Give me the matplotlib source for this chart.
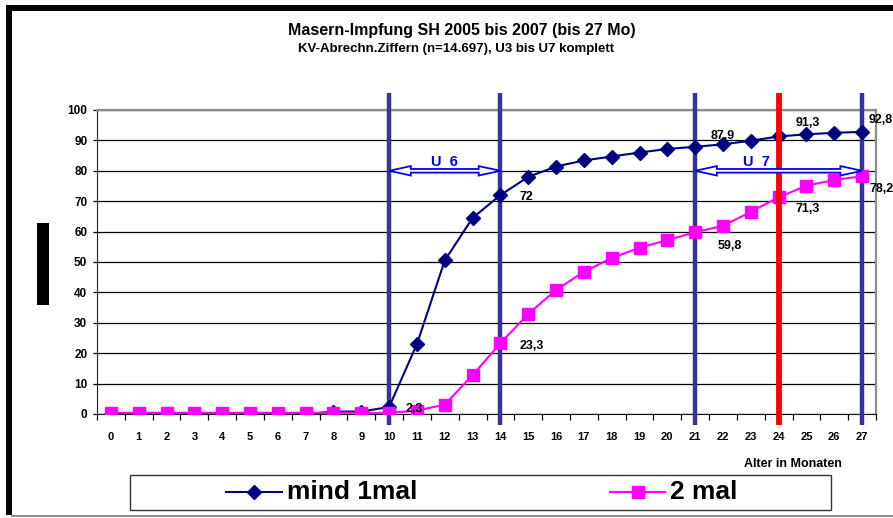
import matplotlib.pyplot as plt
import matplotlib.patches as mpatches
from matplotlib.lines import Line2D

# Alter in Monaten
months = list(range(28))

# Impfquote in %, mindestens eine Masern-Impfung
mind_1mal = [0.0, 0.0, 0.0, 0.0, 0.0, 0.0, 0.0, 0.0, 0.8, 0.8,
             2.3, 23.0, 50.5, 64.5, 72.0, 78.0, 81.4, 83.4, 84.7, 86.0,
             87.2, 87.9, 88.7, 89.9, 91.3, 92.0, 92.5, 92.8]

# Impfquote in %, zwei Masern-Impfungen
zwei_mal = [0.4, 0.4, 0.4, 0.4, 0.4, 0.4, 0.4, 0.4, 0.4, 0.4,
            0.4, 1.1, 3.1, 12.8, 23.3, 32.9, 40.8, 46.8, 51.3, 54.7,
            57.2, 59.8, 61.9, 66.5, 71.3, 75.1, 77.0, 78.2]

# U-Untersuchungen (Monat)
u_lines = [10, 14, 21, 27]
u_ranges = [("U  6", 10, 14), ("U  7", 21, 27)]
red_month = 24

# welche Punkte beschriftet werden, mit Versatz in Pixel
labels_1mal = {10: (17, -2), 14: (19, -2), 21: (15, 11), 24: (17, 13), 27: (7, 12)}
labels_2mal = {14: (19, -3), 21: (22, -14), 24: (17, -12), 27: (7, -13)}

W, H = 893, 518
fig = plt.figure(figsize=(W / 100, H / 100), dpi=100)
plt.rcParams['font.family'] = ['Liberation Sans', 'DejaVu Sans']

ax = fig.add_axes([97 / W, 1 - 414 / H, (876 - 97) / W, (414 - 110) / H])
ax.set_xlim(-0.5, 27.5)
ax.set_ylim(0, 100)

# horizontal grid
ax.set_yticks(range(0, 101, 10))
ax.yaxis.grid(True, color='black', lw=0.9)
ax.set_axisbelow(True)

ax.set_xticks(months)
ax.set_xticks([m - 0.5 for m in months] + [27.5], minor=True)
ax.tick_params(axis='x', which='major', length=0, pad=13, labelsize=8)
ax.tick_params(axis='x', which='minor', length=4, width=0.9, direction='out')
ax.tick_params(axis='y', length=3, width=0.9, pad=4, labelsize=8.5)
for lab in ax.get_xticklabels() + ax.get_yticklabels():
    lab.set_fontweight('bold')

for s in ['top', 'right']:
    ax.spines[s].set_color('#8c8c8c')
    ax.spines[s].set_linewidth(1.6)
ax.spines['left'].set_color('#222222')
ax.spines['bottom'].set_color('#111111')

# U-Linien
ax.vlines(u_lines, -3.6, 105.6, colors='#34349a', lw=3.2, clip_on=False, zorder=3)
ax.vlines([red_month], -3.6, 105.6, colors='#ff0000', lw=4.2, clip_on=False, zorder=7)


def double_arrow(x0, x1, y):
    hl, hh, sh = 0.78, 1.55, 0.6
    pts = [(x0, y), (x0 + hl, y + hh), (x0 + hl, y + sh), (x1 - hl, y + sh),
           (x1 - hl, y + hh), (x1, y), (x1 - hl, y - hh), (x1 - hl, y - sh),
           (x0 + hl, y - sh), (x0 + hl, y - hh)]
    ax.add_patch(mpatches.Polygon(pts, closed=True, fc='white', ec='#0000ff',
                                  lw=1.3, zorder=8))


for name, x0, x1 in u_ranges:
    double_arrow(x0, x1, 80)
ax.text(12, 83, u_ranges[0][0], color='#0000ff', fontsize=10.5, fontweight='bold',
        ha='center', va='center', zorder=9)
ax.text(23.2, 83, u_ranges[1][0], color='#0000ff', fontsize=10.5, fontweight='bold',
        ha='center', va='center', zorder=9)

ax.plot(months, mind_1mal, color='#000080', lw=1.5, marker='D', ms=7.5, zorder=5)
ax.plot(months, zwei_mal, color='#ff00ff', lw=1.5, marker='s', ms=8, zorder=6)


def fmt(v):
    return f"{v:g}".replace('.', ',')


for series, labs in [(mind_1mal, labels_1mal), (zwei_mal, labels_2mal)]:
    for m, off in labs.items():
        ax.annotate(fmt(series[m]), (m, series[m]), xytext=off, textcoords='offset pixels',
                    fontsize=9, fontweight='bold', ha='left', va='center',
                    annotation_clip=False, zorder=10)

# Titel
fig.text(462 / W, 1 - 30 / H, "Masern-Impfung SH 2005 bis 2007 (bis 27 Mo)",
         ha='center', va='center', fontsize=11.5, fontweight='bold')
fig.text(456 / W, 1 - 49 / H, "KV-Abrechn.Ziffern (n=14.697), U3 bis U7 komplett",
         ha='center', va='center', fontsize=9.5, fontweight='bold')
fig.text(793 / W, 1 - 464 / H, "Alter in Monaten", ha='center', va='center',
         fontsize=9, fontweight='bold')

# Legende
fig.add_artist(mpatches.Rectangle((130 / W, 1 - 510 / H), 701 / W, 35 / H,
                                  transform=fig.transFigure, fc='white', ec='#333333', lw=1))
ly = 1 - 492 / H
fig.add_artist(Line2D([226 / W, 282 / W], [ly, ly], color='#000080', lw=1.5))
fig.add_artist(Line2D([254 / W], [ly], color='#000080', marker='D', ms=7.5))
fig.text(287 / W, ly, "mind 1mal", fontsize=19, fontweight='bold', va='center')
fig.add_artist(Line2D([610 / W, 665 / W], [ly, ly], color='#ff00ff', lw=1.5))
fig.add_artist(Line2D([638 / W], [ly], color='#ff00ff', marker='s', ms=8))
fig.text(670 / W, ly, "2 mal", fontsize=19, fontweight='bold', va='center')

# Rahmen und schwarzer Balken
fig.add_artist(mpatches.Rectangle((6 / W, 1 - 11 / H), (W - 6) / W, 6 / H,
                                  transform=fig.transFigure, fc='black', ec='none'))
fig.add_artist(mpatches.Rectangle((6 / W, 1 - 515 / H), 6 / W, 510 / H,
                                  transform=fig.transFigure, fc='black', ec='none'))
fig.add_artist(Line2D([12 / W, 1], [1 - 515.5 / H, 1 - 515.5 / H], color='#777777', lw=1.2))
fig.add_artist(mpatches.Rectangle((37 / W, 1 - 305 / H), 12 / W, 82 / H,
                                  transform=fig.transFigure, fc='black', ec='none'))

fig.savefig('out.png', dpi=100)
